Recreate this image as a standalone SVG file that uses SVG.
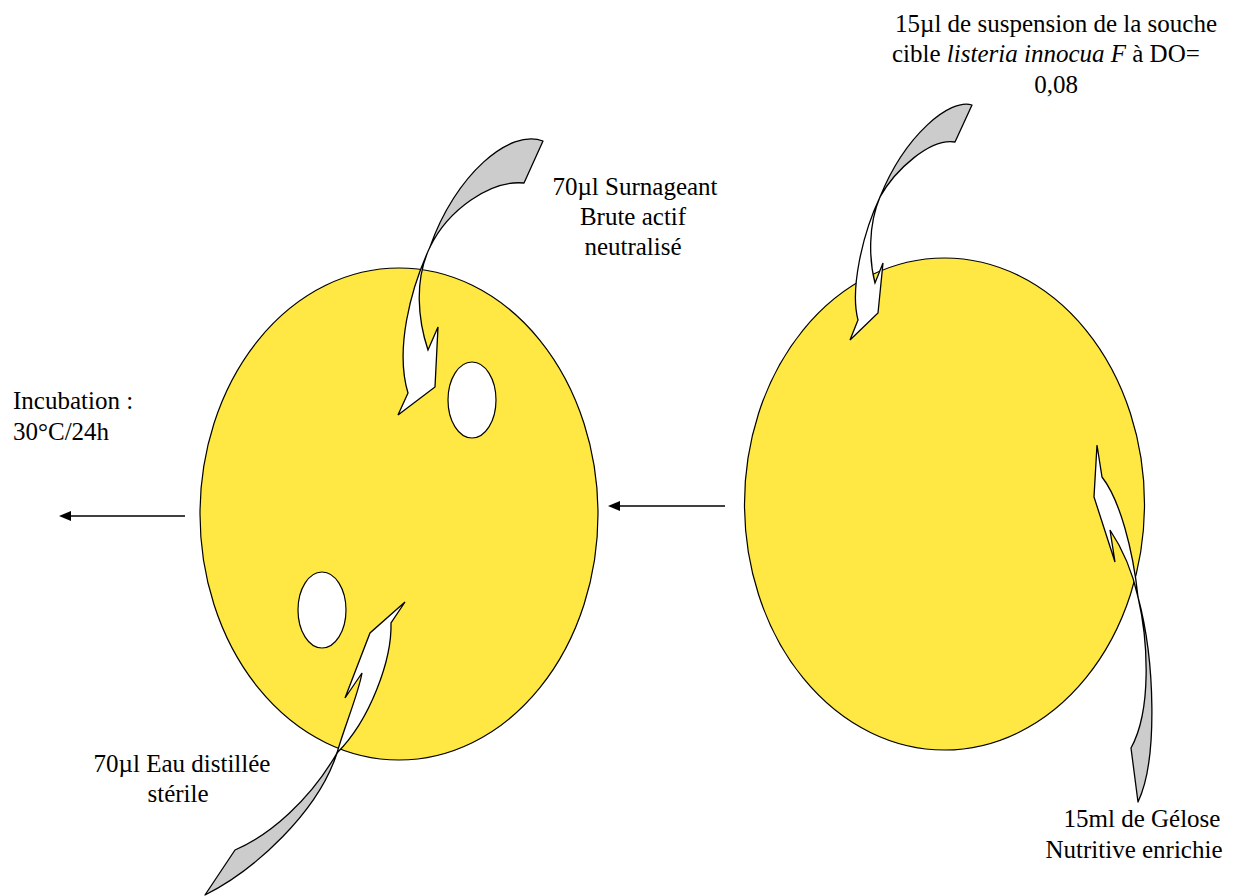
<svg xmlns="http://www.w3.org/2000/svg" width="1233" height="896" viewBox="0 0 1233 896">
<style>
.plate{fill:#FFE843;stroke:#000;stroke-width:1.2}
.hole{fill:#FFF;stroke:#000;stroke-width:1.2}
.back{fill:#CCCCCC;stroke:#000;stroke-width:1.3;stroke-linejoin:round}
.front{fill:#FFF;stroke:#000;stroke-width:1.3;stroke-linejoin:miter}
.lbl{font-size:25px;fill:#000}
.it{font-style:italic}
.ln{stroke:#000;stroke-width:1.5;fill:none}
</style>
<defs>
<marker id="ah" viewBox="0 0 12 10" refX="1" refY="5" markerWidth="12" markerHeight="10" markerUnits="userSpaceOnUse" orient="auto">
<path d="M0,0 L12,5 L0,10 Z" fill="#000"/>
</marker>
</defs>
<rect width="1233" height="896" fill="#FFF"/>
<g id="plate-left">
<ellipse class="plate" cx="399" cy="514" rx="199" ry="246"/>
<ellipse class="hole" cx="472" cy="400" rx="24" ry="38"/>
<ellipse class="hole" cx="322" cy="610" rx="24" ry="38"/>
</g>
<g id="plate-right">
<ellipse class="plate" cx="944.5" cy="504" rx="200" ry="246"/>
</g>
<g id="connectors">
<path class="ln" d="M185,516 L70,516" marker-end="url(#ah)"/>
<path class="ln" d="M725,506 L619,506" marker-end="url(#ah)"/>
</g>
<g id="arrow-surnageant">
<path class="back" d="M543,141 C510,128 455,175 430,247 C448,210 490,180 524,183 Z"/>
<path class="front" d="M430,247 C410,290 395,350 408,393 L398,415 L435,387 L438,327 L428,350 C418,320 414,280 430,247 Z"/>
</g>
<g id="arrow-eau">
<path class="back" d="M337,753 C310,800 270,835 235,850 L205,895 C255,870 318,812 337,753 Z"/>
<path class="front" d="M337,753 C370,720 392,660 391,623 L405,602 L370,633 L345,698 L362,673 C358,695 345,725 337,753 Z"/>
</g>
<g id="arrow-souche">
<path class="back" d="M972,105 C950,98 905,135 880,197 C895,170 930,138 955,142 Z"/>
<path class="front" d="M880,197 C862,235 850,290 858,320 L850,340 L878,313 L883,263 L875,283 C869,260 868,225 880,197 Z"/>
</g>
<g id="arrow-gelose">
<path class="back" d="M1138,597 C1148,640 1152,710 1131,748 L1138,802 C1158,760 1155,660 1138,597 Z"/>
<path class="front" d="M1138,597 C1133,550 1120,500 1102,477 L1097,445 L1094,497 L1115,562 L1110,530 C1122,548 1132,570 1138,597 Z"/>
</g>
<g font-family="'Liberation Serif', 'Times New Roman', 'DejaVu Serif', serif">
<g id="label-souche">
<text class="lbl" x="1056" y="32" text-anchor="middle">15µl de suspension de la souche</text>
<text class="lbl" x="892" y="62">cible <tspan class="it">listeria innocua F</tspan> à DO=</text>
<text class="lbl" x="1056" y="93" text-anchor="middle">0,08</text>
</g>
<g id="label-surnageant">
<text class="lbl" x="635" y="195" text-anchor="middle">70µl Surnageant</text>
<text class="lbl" x="633" y="225" text-anchor="middle">Brute actif</text>
<text class="lbl" x="633" y="255" text-anchor="middle">neutralisé</text>
</g>
<g id="label-incubation">
<text class="lbl" x="13" y="409">Incubation :</text>
<text class="lbl" x="13" y="440">30°C/24h</text>
</g>
<g id="label-eau">
<text class="lbl" x="182" y="772" text-anchor="middle">70µl Eau distillée</text>
<text class="lbl" x="178" y="802" text-anchor="middle">stérile</text>
</g>
<g id="label-gelose">
<text class="lbl" x="1142" y="827" text-anchor="middle">15ml de Gélose</text>
<text class="lbl" x="1134" y="858" text-anchor="middle">Nutritive enrichie</text>
</g>
</g>
</svg>
